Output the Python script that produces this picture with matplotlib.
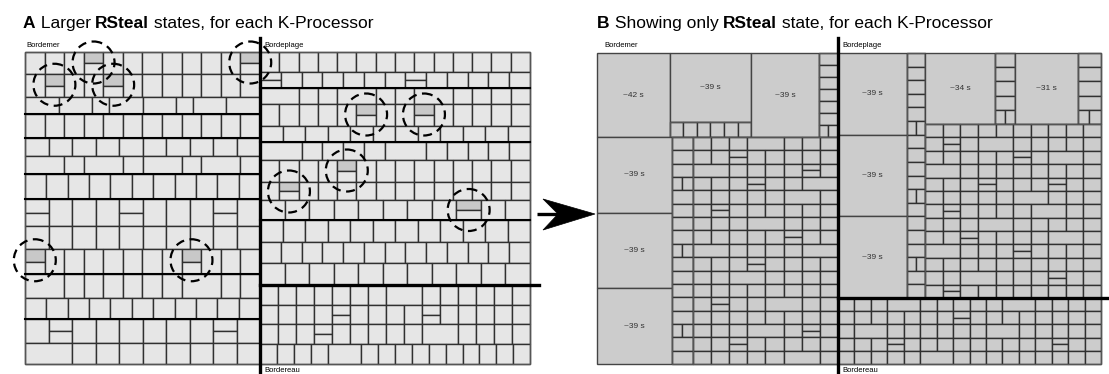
import matplotlib
matplotlib.use("Agg")
import matplotlib.pyplot as plt
from matplotlib.patches import Rectangle, Circle, Polygon

plt.rcParams['font.family'] = ['Liberation Sans', 'DejaVu Sans']

processors = ["Bordemer", "Bordeplage", "Bordereau"]
title_a = [("A", "bold"), (" Larger ", "normal"), ("RSteal", "bold"),
           (" states, for each K-Processor", "normal")]
title_b = [("B", "bold"), (" Showing only ", "normal"), ("RSteal", "bold"),
           (" state, for each K-Processor", "normal")]

# RSteal durations (s) of the big states of panel B
bordemer_rsteal = [42, 39, 39, 39, 39, 39]
bordeplage_rsteal = [39, 34, 31, 39, 39]

# row weights + cell patterns: '1' one cell, '2' two stacked cells, '-' widens the previous cell
a_mer_h = [22, 23, 17, 24, 18, 18, 25, 27, 23, 25, 24, 21, 24, 21]
a_mer_rows = ["111211111112", "121121111111", "1-1-11-1-11-1-", "111111111111",
              "1111111111", "1-11-11-11-1", "11111111111", "2111211121",
              "1111111111", "211111112111", "1-1111111-11", "11111111111",
              "1211111121", "1-11111111"]
a_mer_big = [(0, 3), (0, 11), (1, 1), (1, 4), (9, 0), (9, 8)]
a_mer_thick = [2, 3, 5, 6, 9, 11]

a_pla_h = [20, 16, 16, 22, 16, 18, 22, 18, 20, 22, 21, 22]
a_pla_rows = ["11111111111111", "2111111211111", "1-111-111-1111", "11111211211111",
              "111111111111", "1-11111-11111", "11112111111111", "12111111111111",
              "11111111211", "111111111111", "1111111111111", "11111111111"]
a_pla_big = [(3, 5), (3, 8), (6, 4), (7, 1), (8, 8)]
a_pla_thick = [1, 4, 8]

a_rea_h = [20, 19, 20, 20]
a_rea_rows = ["11111111-111111", "111121111211111", "1112111111-1111", "11111-1111111111"]

b_mer_under = ["111111"]
b_mer_side = ["1", "1", "1", "1", "1", "1", "11"]
b_mer_strip = ["1", "1", "1", "11", "1", "1", "1", "1", "11", "1", "1", "1", "1", "1",
               "11", "1", "1"]
b_mer_grid = ["1111-111", "11211111", "1-111121", "1112111-", "111111-1", "12111111",
              "1111-111", "11111211", "1-11111-", "11121111", "111-1111", "11111111",
              "12111-11", "11111111", "1111-121", "11211111", "111111-1"]

b_pla_strip = ["1", "1", "1", "1", "1", "11", "1", "1", "1", "1", "11", "1", "1", "1",
               "1", "11", "1", "1"]
b_pla_side = ["1", "1", "1", "1", "11"]
b_pla_grid = ["1111111111", "1211-11111", "11111211-1", "1-11111111", "1112111211",
              "111111-111", "1211111-11", "1111-11111", "11211111-1", "1-11121111",
              "1111111111", "111-111211", "1211111111"]
b_rea_grid = ["1111-111111-1111", "1111111211111111", "11-1111111-11111",
              "1112111111111211", "111111-111111111"]

LIGHT = '#e6e6e6'
MARK = '#c8c8c8'
STEAL = '#cccccc'
EDGE = '#303030'
AREA = 145.0  # px^2 per second of RSteal

fig = plt.figure(figsize=(11.09, 3.74), dpi=100)
ax = fig.add_axes([0, 0, 1, 1])
ax.set_xlim(0, 1109)
ax.set_ylim(374, 0)
ax.axis('off')


def parse(pat):
    cells = []
    for ch in pat:
        if ch == '-':
            cells[-1][0] += 1
        else:
            cells.append([1, int(ch)])
    return cells


def draw_rows(x0, y0, w, h, heights, rows, face, marked=(), thick=()):
    centers = []
    total = float(sum(heights))
    y = y0
    for i, (hh, pat) in enumerate(zip(heights, rows)):
        rh = h * hh / total
        cells = parse(pat)
        units = float(sum(c[0] for c in cells))
        x = x0
        for j, (span, stack) in enumerate(cells):
            cw = w * span / units
            sh = rh / stack
            for k in range(stack):
                fc = face
                if (i, j) in marked and k == 0:
                    fc = MARK
                    centers.append((x + cw / 2, y + sh / 2 + 5))
                ax.add_patch(Rectangle((x, y + k * sh), cw, sh, fc=fc, ec=EDGE, lw=1.0))
            x += cw
        y += rh
        if i in thick:
            ax.plot([x0, x0 + w], [y, y], color='k', lw=1.5)
    ax.add_patch(Rectangle((x0, y0), w, h, fill=False, ec='#555555', lw=1.0))
    return centers


def grid(x0, y0, w, h, rows):
    draw_rows(x0, y0, w, h, [1] * len(rows), rows, STEAL)


def big(x, y, w, h, dur):
    ax.add_patch(Rectangle((x, y), w, h, fc=STEAL, ec='#444444', lw=1.0))
    ax.text(x + w / 2, y + h / 2, "~%d s" % dur, ha='center', va='center',
            fontsize=6, color='#333333')


def title(x, y, parts):
    t = ax.text(x, y, parts[0][0], fontsize=12.5, fontweight=parts[0][1], va='baseline')
    for s, wgt in parts[1:]:
        t = ax.annotate(s, xy=(1, 0), xycoords=t, va='bottom', ha='left',
                        fontsize=12.5, fontweight=wgt)


# ---------- panel A ----------
circles = []
circles += draw_rows(25, 52, 235, 312, a_mer_h, a_mer_rows, LIGHT, a_mer_big, a_mer_thick)
circles += draw_rows(260, 52, 270, 233, a_pla_h, a_pla_rows, LIGHT, a_pla_big, a_pla_thick)
draw_rows(260, 285, 270, 79, a_rea_h, a_rea_rows, LIGHT)
for cx, cy in circles:
    ax.add_patch(Circle((cx, cy), 21, fill=False, ec='k', lw=1.6, ls=(0, (4, 2.5)), zorder=5))

ax.plot([260, 260], [38, 374], color='k', lw=2.4, zorder=6)
ax.plot([260, 539], [285, 285], color='k', lw=2.4, zorder=6)
ax.text(26, 47, processors[0], fontsize=5.5)
ax.text(264, 47, processors[1], fontsize=5.5)
ax.text(264, 372, processors[2], fontsize=5.5)
title(23, 28, title_a)

# ---------- arrow ----------
ax.plot([537, 566], [214, 214], color='k', lw=2.4, solid_capstyle='butt')
ax.add_patch(Polygon([[595, 214], [543, 199], [558, 214], [543, 230]], closed=True,
                     fc='k', ec='k', lw=0.5))

# ---------- panel B : Bordemer ----------
d = bordemer_rsteal
x0, y0, x1, y1 = 597, 53, 838, 364
top_h = 84
x = x0
w = AREA * d[0] / top_h
big(x, y0, w, top_h, d[0])
x += w
h1 = 69
w = AREA * d[1] / h1
big(x, y0, w, h1, d[1])
grid(x, y0 + h1, w, top_h - h1, b_mer_under)
x += w
w = AREA * d[2] / top_h
big(x, y0, w, top_h, d[2])
x += w
grid(x, y0, x1 - x, top_h, b_mer_side)
y = y0 + top_h
col_w = AREA * sum(d[3:]) / (y1 - y)
for dur in d[3:]:
    hh = AREA * dur / col_w
    big(x0, y, col_w, hh, dur)
    y += hh
grid(x0 + col_w, y0 + top_h, 21, y1 - y0 - top_h, b_mer_strip)
grid(x0 + col_w + 21, y0 + top_h, x1 - x0 - col_w - 21, y1 - y0 - top_h, b_mer_grid)

# ---------- panel B : Bordeplage ----------
d = bordeplage_rsteal
x0, y0, x1, y1 = 838, 53, 1101, 298
left = [d[0], d[3], d[4]]
col_w = AREA * sum(left) / (y1 - y0)
y = y0
for dur in left:
    hh = AREA * dur / col_w
    big(x0, y, col_w, hh, dur)
    y += hh
grid(x0 + col_w, y0, 18, y1 - y0, b_pla_strip)
x = x0 + col_w + 18
top_h = 71
w = AREA * d[1] / top_h
big(x, y0, w, top_h, d[1])
grid(x + w, y0, 20, top_h, b_pla_side)
xg = x
x += w + 20
w = AREA * d[2] / top_h
big(x, y0, w, top_h, d[2])
grid(x + w, y0, x1 - x - w, top_h, b_pla_side)
grid(xg, y0 + top_h, x1 - xg, y1 - y0 - top_h, b_pla_grid)

# ---------- panel B : Bordereau ----------
grid(838, 298, 263, 66, b_rea_grid)

ax.plot([838, 838], [38, 374], color='k', lw=2.4, zorder=6)
ax.plot([838, 1109], [298, 298], color='k', lw=2.4, zorder=6)
ax.text(604, 47, processors[0], fontsize=5.5)
ax.text(842, 47, processors[1], fontsize=5.5)
ax.text(842, 372, processors[2], fontsize=5.5)
title(597, 28, title_b)

fig.savefig("out.png", dpi=100)
